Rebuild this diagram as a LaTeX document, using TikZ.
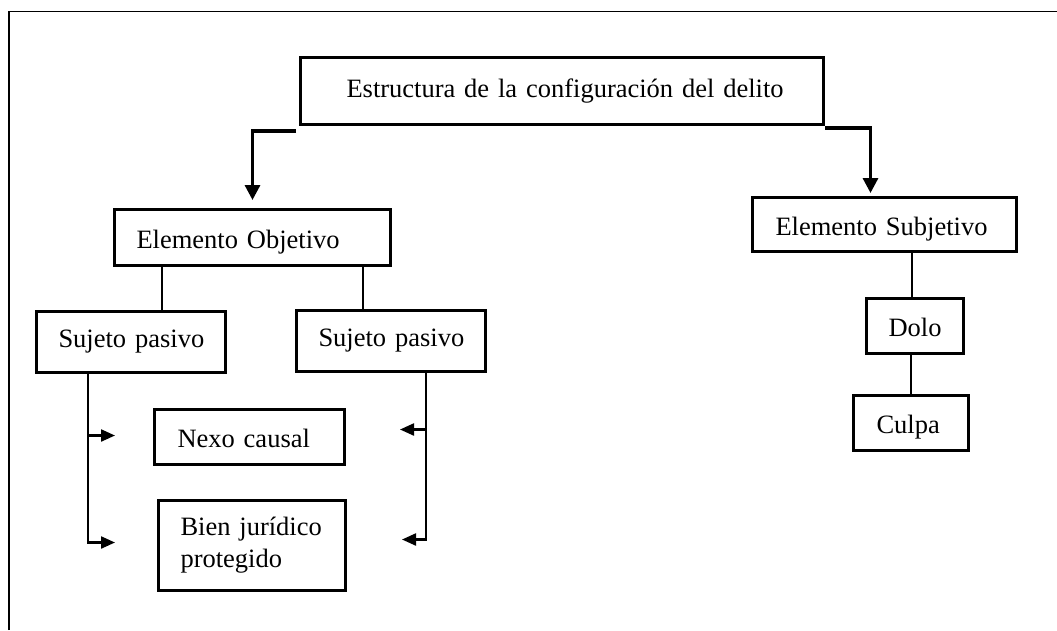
\documentclass[tikz,border=0pt]{standalone}
\usepackage{fontspec}
\setmainfont{Liberation Serif}
\usetikzlibrary{arrows.meta}
\begin{document}
\begin{tikzpicture}[x=1pt,y=-1pt,
  font=\fontsize{26.5}{32}\selectfont,
  box/.style={draw,line width=3pt,anchor=north west,align=left,inner ysep=0pt},
  lowtext/.style={text height=23pt,text depth=1.5pt},
  bigarrow/.style={line width=3.2pt,-{Triangle[length=15pt,width=15pt]}},
  smallarrow/.style={line width=2.2pt,-{Triangle[length=14pt,width=12pt]}},
  plainline/.style={line width=2.2pt},
  frameline/.style={line width=1.5pt}]
\useasboundingbox (0,0) rectangle (1057,630);
% frame
\draw[frameline] (9,630) -- (9,11.5) -- (1057,11.5);
% boxes: text width = w - 2*inset
\node[box,inner xsep=46pt,text width=431pt,minimum height=67pt] (top) at (299,56) {\mbox{Estructura de la configuración del delito}};
\node[box,lowtext,inner xsep=22pt,text width=232pt,minimum height=56pt] (eo) at (113,208) {\mbox{Elemento Objetivo}};
\node[box,lowtext,inner xsep=23pt,text width=218pt,minimum height=54pt] (es) at (751,196) {\mbox{Elemento Subjetivo}};
\node[box,inner xsep=22pt,text width=145pt,minimum height=61pt] (sp1) at (35,310) {\mbox{Sujeto pasivo}};
\node[box,inner xsep=22pt,text width=145pt,minimum height=61pt] (sp2) at (295,309) {\mbox{Sujeto pasivo}};
\node[box,lowtext,inner xsep=23pt,text width=144pt,minimum height=55pt] (nexo) at (153,408) {\mbox{Nexo causal}};
\node[box,inner xsep=22pt,text width=143pt,minimum height=90pt] (bien) at (157,499) {Bien jurídico\\protegido};
\node[box,lowtext,inner xsep=22pt,text width=53pt,minimum height=55pt] (dolo) at (865,297) {\mbox{Dolo}};
\node[box,lowtext,inner xsep=23pt,text width=69pt,minimum height=55pt] (culpa) at (852,394) {\mbox{Culpa}};
% coordinates for line positions
\coordinate (x1) at (162,0);
\coordinate (x2) at (363,0);
\coordinate (lx) at (88,0);
\coordinate (rx) at (426,0);
\coordinate (dx) at (912,0);
% top connectors
\draw[bigarrow] ([yshift=-5pt,xshift=-3pt]top.south west) -| ([yshift=8pt]eo.north);
\draw[bigarrow] ([yshift=-2pt]top.south east) -| ([xshift=-14pt,yshift=3pt]es.north);
% objective element to passive subjects
\draw[plainline] (eo.south -| x1) -- (sp1.north -| x1);
\draw[plainline] (eo.south -| x2) -- (sp2.north -| x2);
% left branch arrows
\draw[smallarrow] (sp1.south -| lx) |- ([xshift=-38pt,yshift=1.5pt]nexo.west);
\draw[smallarrow] (sp1.south -| lx) |- ([xshift=-42pt,yshift=3pt]bien.west);
% right branch arrows
\draw[smallarrow] (sp2.south -| rx) |- ([xshift=54pt,yshift=7.5pt]nexo.east);
\draw[smallarrow] (sp2.south -| rx) |- ([xshift=55pt,yshift=6pt]bien.east);
% subjective element chain
\draw[plainline] (es.south -| dx) -- (dolo.north -| dx);
\draw[plainline] (dolo.south -| culpa.north) -- (culpa.north);
\end{tikzpicture}
\end{document}
